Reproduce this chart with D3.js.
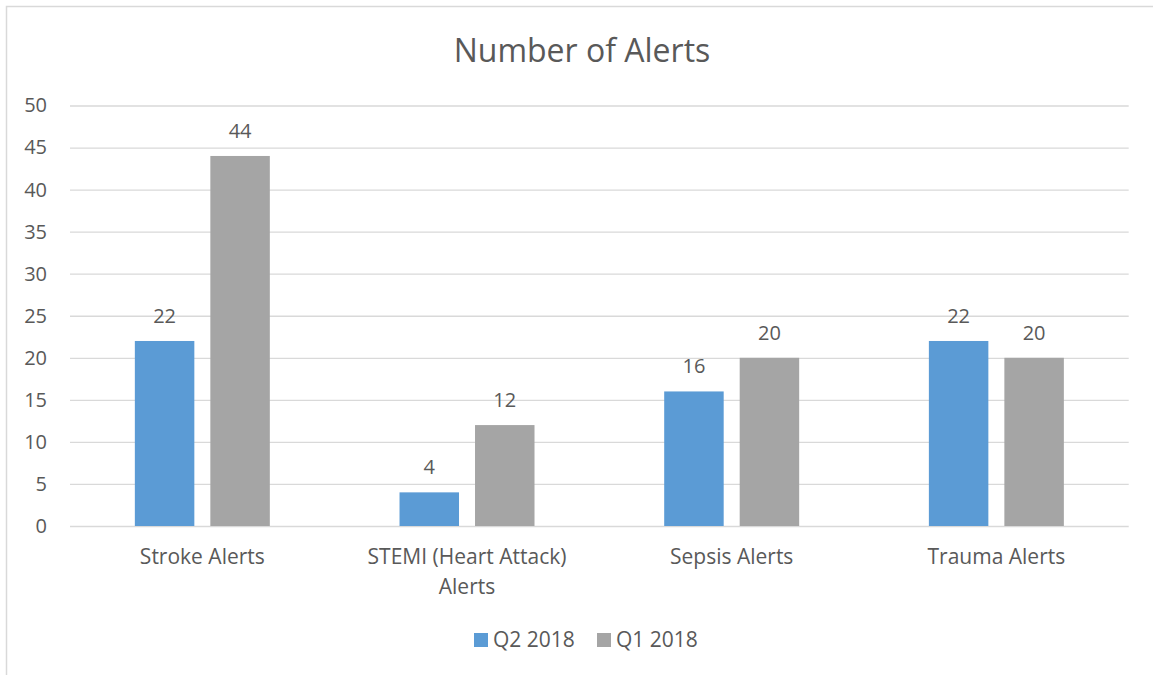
<!DOCTYPE html>
<html><head><meta charset="utf-8">
<script src="https://cdn.jsdelivr.net/npm/d3@7"></script>
<style>html,body{margin:0;padding:0;background:#fff;overflow:hidden}</style>
</head><body>
<svg id="c" width="1153" height="675"></svg>
<script>
const categories = ["Stroke Alerts", "STEMI (Heart Attack) Alerts", "Sepsis Alerts", "Trauma Alerts"];
const seriesNames = ["Q2 2018", "Q1 2018"];
const q2Values = [22, 4, 16, 22];
const q1Values = [44, 12, 20, 20];
const yTicks = [0, 5, 10, 15, 20, 25, 30, 35, 40, 45, 50];
const title = "Number of Alerts";

const colors = {"Q2 2018": "#5B9BD5", "Q1 2018": "#A5A5A5"};
const seriesValues = {"Q2 2018": q2Values, "Q1 2018": q1Values};
const font = "'Open Sans', sans-serif";
const txt = "#595959";

const svg = d3.select("#c");
svg.append("rect").attr("x", 6.5).attr("y", 6.5).attr("width", 1160).attr("height", 700)
  .attr("fill", "#fff").attr("stroke", "#D9D9D9").attr("stroke-width", 1.5);

const L = 70, R = 1128.7, T = 105.5, B = 526;
const x = d3.scaleBand().domain(categories).range([L, R]);
const bw = x.bandwidth();
const xs = d3.scaleBand().domain(seriesNames).range([bw * 0.245, bw * 0.755]).paddingInner(0.212);
const y = d3.scaleLinear().domain([0, 50]).range([B, T]);

// grid
const yAxis = d3.axisLeft(y).tickValues(yTicks).tickSize(-(R - L)).tickFormat(d3.format("d")).tickPadding(23);
const ga = svg.append("g").attr("transform", `translate(${L},0)`).call(yAxis);
ga.select(".domain").remove();
ga.selectAll(".tick line").attr("stroke", "#D9D9D9").attr("stroke-width", 1.3);
ga.selectAll(".tick text").attr("fill", txt).style("font-family", font).style("font-size", "20px");

// bars
const groups = svg.append("g").selectAll("g").data(categories).join("g")
  .attr("transform", d => `translate(${x(d)},0)`);
seriesNames.forEach(s => {
  groups.append("rect")
    .attr("x", xs(s)).attr("width", xs.bandwidth())
    .attr("y", (d, i) => y(seriesValues[s][i]))
    .attr("height", (d, i) => B - y(seriesValues[s][i]))
    .attr("fill", colors[s]);
  groups.append("text")
    .attr("x", xs(s) + xs.bandwidth() / 2)
    .attr("y", (d, i) => y(seriesValues[s][i]) - 18)
    .attr("text-anchor", "middle").attr("fill", txt)
    .style("font-family", font).style("font-size", "20px")
    .text((d, i) => seriesValues[s][i]);
});

// x axis labels
const xAxis = d3.axisBottom(x).tickSize(0).tickPadding(0);
const gx = svg.append("g").attr("transform", `translate(0,${B})`).call(xAxis);
gx.select(".domain").remove();
gx.selectAll(".tick text").attr("fill", txt).style("font-family", font).style("font-size", "21px")
  .attr("dy", null).attr("y", 38)
  .each(function(d) {
    const t = d3.select(this);
    const words = d.split(" ");
    t.text(null);
    let line = [], lines = [];
    const tmp = t.append("tspan");
    words.forEach(w => {
      line.push(w);
      tmp.text(line.join(" "));
      if (tmp.node().getComputedTextLength() > 240 && line.length > 1) {
        line.pop(); lines.push(line.join(" ")); line = [w];
      }
    });
    lines.push(line.join(" "));
    tmp.remove();
    lines.forEach((l, i) => t.append("tspan").attr("x", 0).attr("y", 38 + i * 29.5).text(l));
  });

// title
svg.append("text").attr("x", 582).attr("y", 62).attr("text-anchor", "middle")
  .attr("fill", txt).style("font-family", font).style("font-size", "32px").text(title);

// legend
const lg = svg.append("g");
const legX = [474, 597];
seriesNames.forEach((s, i) => {
  lg.append("rect").attr("x", legX[i]).attr("y", 633).attr("width", 14).attr("height", 14).attr("fill", colors[s]);
  lg.append("text").attr("x", legX[i] + 19).attr("y", 647).attr("fill", txt)
    .style("font-family", font).style("font-size", "21px").text(s);
});
</script>
</body></html>
